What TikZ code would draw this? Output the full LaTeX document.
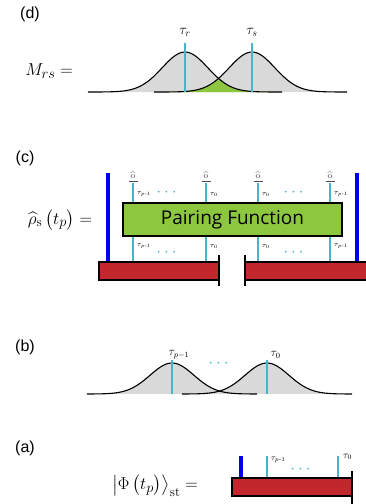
\documentclass[tikz,border=0pt]{standalone}
\usepackage{amsmath}
\usepackage{fontspec}
\newfontfamily\panelfont{Liberation Sans}
\newfontfamily\boxfont{Open Sans}
\usetikzlibrary{positioning}

\definecolor{tubecyan}{HTML}{45B5C9}
\definecolor{gaussgray}{HTML}{D9D9D9}
\definecolor{overlapgreen}{HTML}{8DC63F}
\definecolor{stripred}{HTML}{C1272D}
\definecolor{wallblue}{HTML}{0000F0}

\tikzset{
  panel/.style={font=\panelfont\fontsize{16}{18}\selectfont},
  eqlabel/.style={font=\fontsize{19}{21}\selectfont},
  gausscurve/.style={draw=black, line width=1.1pt},
  tauline/.style={draw=tubecyan, line width=2.6pt},
  legline/.style={draw=tubecyan, line width=2.2pt},
  stripbox/.style={draw=black, line width=2pt, fill=stripred},
  wallbar/.style={draw=wallblue, line width=4.5pt},
  stripend/.style={draw=black, line width=2.4pt},
  tinytau/.style={inner sep=0pt, anchor=west, font=\fontsize{7}{8}\selectfont},
  cyandots/.style={inner sep=0pt, text=tubecyan, font=\fontsize{17}{18}\selectfont},
  probe/.style={inner sep=0pt, text=black!70, font=\fontsize{9}{10}\selectfont},
}

\begin{document}
\begin{tikzpicture}[x=1pt, y=-1pt]
\useasboundingbox (0,0) rectangle (366,504);

% (d) overlap of two wave packets
\node (labd) [panel] at (30,14) {(d)};
\node (mrs) [eqlabel] at (49,71) {$M_{rs} =$};
\fill[gaussgray] plot[domain=88:282, samples=80] (\x, {92-40*exp(-((\x-185)^2)/1040)}) -- cycle;
\fill[gaussgray] plot[domain=154:347, samples=80] (\x, {92-40*exp(-((\x-252)^2)/1040)}) -- cycle;
\fill[overlapgreen] plot[domain=154:282, samples=80] (\x, {92-40*exp(-max((\x-185)^2,(\x-252)^2)/1040)}) -- cycle;
\draw[gausscurve] plot[domain=88:282, samples=80] (\x, {92-40*exp(-((\x-185)^2)/1040)});
\draw[gausscurve] plot[domain=154:347, samples=80] (\x, {92-40*exp(-((\x-252)^2)/1040)});
\draw[tauline] (185,43) -- (185,92);
\draw[tauline] (252,43) -- (252,92);
\node (taur) [font=\fontsize{14}{16}\selectfont] at (185,32) {$\tau_r$};
\node (taus) [font=\fontsize{14}{16}\selectfont] at (252,32) {$\tau_s$};

% (c) reduced density matrix
\node (labc) [panel] at (25,158) {(c)};
\node (rhos) [eqlabel] at (60,220) {$\widehat{\rho}_{\mathrm{s}}\left(t_p\right) =$};
\foreach \lx in {133,206,258,330} {
  \draw[legline] (\lx,183) -- (\lx,262);
  \draw[black!70, line width=0.6pt] (\lx-4.5,181.5) -- (\lx+4.5,181.5);
  \node[probe] at (\lx,175) {$\widehat{\mathrm{o}}$};
}
\foreach \lx/\ls in {133/{p\text{-}1},206/0,258/0,330/{p\text{-}1}} {
  \node[tinytau] at (\lx+4,194) {$\tau_{\ls}$};
  \node[tinytau] at (\lx+4,246) {$\tau_{\ls}$};
}
\foreach \dx in {168,295} {
  \node[cyandots] at (\dx,193) {$\cdots$};
  \node[cyandots] at (\dx,253) {$\cdots$};
}
\node (pairing) [draw=black, line width=2pt, fill=overlapgreen, minimum width=219pt, minimum height=33pt,
  font=\boxfont\fontsize{19}{21}\selectfont] at (232.5,219.5) {Pairing Function};
\draw[wallbar] (108,173) -- (108,261);
\draw[wallbar] (357,173) -- (357,261);
\draw[stripbox] (99,262) rectangle (219,280);
\draw[stripbox] (245,262) rectangle (368,280);
\draw[stripend] (219,255) -- (219,286);
\draw[stripend] (245,255) -- (245,286);

% (b) wave packets at the time slices
\node (labb) [panel] at (25,347) {(b)};
\fill[gaussgray] plot[domain=87:257, samples=80] (\x, {394-31*exp(-((\x-172)^2)/960)}) -- cycle;
\fill[gaussgray] plot[domain=182:352, samples=80] (\x, {394-31*exp(-((\x-267)^2)/960)}) -- cycle;
\draw[gausscurve] plot[domain=87:257, samples=80] (\x, {394-31*exp(-((\x-172)^2)/960)});
\draw[gausscurve] plot[domain=182:352, samples=80] (\x, {394-31*exp(-((\x-267)^2)/960)});
\draw[tauline] (172,360) -- (172,394);
\draw[tauline] (267,360) -- (267,394);
\node (taupm) [inner sep=0.5pt, anchor=west, font=\fontsize{12}{14}\selectfont] at (168,355) {$\tau_{p-1}$};
\node (tauzb) [inner sep=0.5pt, anchor=west, font=\fontsize{12}{14}\selectfont] at (270,355) {$\tau_0$};
\node (dotsb) [cyandots] at (220,364) {$\cdots$};

% (a) system state
\node (laba) [panel] at (25,448) {(a)};
\node (phist) [eqlabel] at (155,486) {$\left|\Phi\left(t_p\right)\right\rangle_{\mathrm{st}} =$};
\draw[wallbar] (241,456) -- (241,478);
\draw[legline] (267,456) -- (267,478);
\draw[legline] (338,456) -- (338,478);
\draw[stripbox] (232,478) rectangle (352,496);
\draw[stripend] (352,471) -- (352,504);
\node (taupa) [tinytau, font=\fontsize{8}{9}\selectfont] at (271,460) {$\tau_{p\text{-}1}$};
\node (tauza) [tinytau, font=\fontsize{10}{11}\selectfont] at (343,457) {$\tau_0$};
\node (dotsa) [cyandots] at (302,470) {$\cdots$};
\end{tikzpicture}
\end{document}
